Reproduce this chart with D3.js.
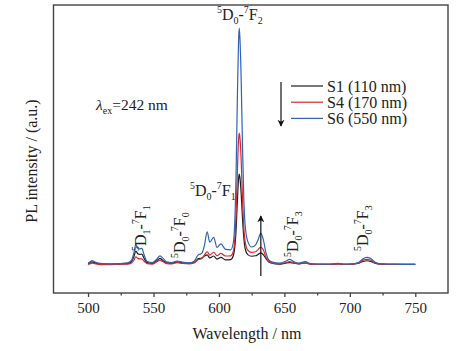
<!DOCTYPE html>
<html>
<head>
    <script src="https://d3js.org/d3.v7.min.js"></script>
    <style>
        body { margin: 0; background: #fff; }
    </style>
</head>
<body>
<svg width="472" height="351" id="mainSvg"></svg>
<script>
    // wavelength (nm) sampling points
    const wavelengths = [
        500, 502, 503, 505, 508, 512, 518, 524, 530, 533,
        535, 536.5, 538, 539.5, 541, 543, 545, 549, 552, 555,
        557, 560, 564, 568, 572, 577, 581, 584, 587, 589,
        591, 593, 596, 598.5, 601.5, 605, 609, 611, 612, 613,
        614, 615, 615.5, 616, 617, 618, 619, 620, 622, 625,
        628, 630, 632, 634, 636, 638, 641, 646, 651, 654,
        657, 661, 666, 670, 676, 684, 691, 696, 702, 707,
        710, 713, 716, 719, 724, 732, 741, 750
    ];
    // S1 (110 nm) - black
    const s1Values = [
        0.5, 1.0, 1.3, 1.0, 0.5, 0.4, 0.4, 0.5, 0.6, 1.3,
        3.5, 5.9, 4.8, 4.5, 4.6, 2.6, 1.0, 0.7, 1.6, 2.8,
        2.0, 0.9, 0.7, 1.3, 0.9, 0.7, 1.1, 2.6, 3.0, 3.8,
        4.3, 3.0, 3.8, 2.5, 3.2, 2.2, 2.3, 4.0, 7.0, 14.0,
        26, 36.5, 38.4, 37, 30, 19.5, 11.5, 7.0, 4.4, 3.7,
        3.9, 4.5, 5.1, 4.3, 2.6, 1.3, 0.7, 0.4, 0.8, 1.0,
        0.8, 0.5, 0.9, 0.4, 0.3, 0.3, 0.5, 0.3, 0.4, 0.8,
        1.5, 1.8, 1.5, 0.8, 0.4, 0.3, 0.3, 0.3
    ];
    // S4 (170 nm) - red
    const s4Values = [
        0.3, 0.6, 0.8, 0.6, 0.3, 0.2, 0.2, 0.3, 0.4, 0.8,
        2.0, 3.5, 2.8, 2.6, 2.6, 1.5, 0.6, 0.4, 1.2, 2.1,
        1.5, 0.6, 0.5, 1.0, 0.7, 0.5, 0.9, 2.2, 2.8, 4.3,
        5.6, 4.2, 5.4, 3.9, 4.9, 3.8, 3.9, 5.8, 10.0, 20.0,
        38, 53, 55.7, 54, 44, 28, 16, 10, 6.3, 5.3,
        5.6, 6.6, 7.6, 6.2, 3.2, 1.6, 0.8, 0.5, 1.0, 1.4,
        1.0, 0.5, 0.8, 0.4, 0.3, 0.3, 0.5, 0.3, 0.4, 0.9,
        2.0, 2.4, 2.0, 0.9, 0.4, 0.3, 0.3, 0.3
    ];
    // S6 (550 nm) - blue
    const s6Values = [
        0.8, 1.5, 1.9, 1.4, 0.8, 0.6, 0.5, 0.6, 0.9, 1.8,
        5.0, 8.7, 7.0, 6.8, 7.0, 4.0, 1.6, 1.0, 2.2, 3.9,
        3.0, 1.3, 1.0, 1.7, 1.2, 0.9, 1.6, 4.2, 5.0, 8.5,
        14.0, 9.6, 11.7, 7.4, 8.9, 6.6, 6.4, 9.5, 17.0, 36.0,
        68, 95, 100, 96, 78, 50, 28, 17, 10, 7.6,
        8.5, 10.8, 13.5, 10.5, 5.0, 2.2, 1.2, 0.8, 1.6, 2.4,
        1.5, 0.8, 1.4, 0.6, 0.4, 0.4, 0.7, 0.4, 0.5, 1.2,
        2.6, 3.2, 2.7, 1.3, 0.5, 0.4, 0.3, 0.3
    ];
    const seriesNames = ["S1 (110 nm)", "S4 (170 nm)", "S6 (550 nm)"];
    const seriesColors = ["#1e1e1e", "#d8262e", "#2f63b3"];
    const majorTicks = [500, 550, 600, 650, 700, 750];
    const minorTicks = [525, 575, 625, 675, 725];

    const FONT = "'Liberation Serif', Tinos, 'Times New Roman', serif";
    const svg = d3.select("#mainSvg");
    const plot = { left: 53.5, right: 448, top: 5, bottom: 293 };

    const xScale = d3.scaleLinear().domain([473.6, 775]).range([plot.left, plot.right]);
    const yScale = d3.scaleLinear().domain([-11.8, 109.7]).range([plot.bottom, plot.top]);

    // arrow head
    const defs = svg.append("defs");
    defs.append("marker")
        .attr("id", "head")
        .attr("viewBox", "0 0 10 10")
        .attr("refX", 9).attr("refY", 5)
        .attr("markerWidth", 7).attr("markerHeight", 8)
        .attr("markerUnits", "userSpaceOnUse")
        .attr("orient", "auto")
        .append("path").attr("d", "M0,0 L10,5 L0,10 L3,5 Z").attr("fill", "#111");

    // spectra
    const line = d3.line()
        .x((d, i) => xScale(wavelengths[i]))
        .y(d => yScale(d))
        .curve(d3.curveMonotoneX);
    [s1Values, s4Values, s6Values].forEach((vals, k) => {
        svg.append("path")
            .datum(vals)
            .attr("fill", "none")
            .attr("stroke", seriesColors[k])
            .attr("stroke-width", 1.2)
            .attr("d", line);
    });

    // frame
    svg.append("rect")
        .attr("x", plot.left).attr("y", plot.top)
        .attr("width", plot.right - plot.left).attr("height", plot.bottom - plot.top)
        .attr("fill", "none").attr("stroke", "#444").attr("stroke-width", 1.4);

    // x axis
    const xAxis = svg.append("g")
        .attr("transform", `translate(0,${plot.bottom})`)
        .call(d3.axisBottom(xScale).tickValues(majorTicks).tickSize(4).tickSizeOuter(0));
    xAxis.attr("font-family", FONT).attr("font-size", 15);
    xAxis.select(".domain").remove();
    xAxis.selectAll("line").attr("stroke", "#444").attr("stroke-width", 1.3);
    xAxis.selectAll("text").attr("y", 9).attr("fill", "#222");
    const xMinor = svg.append("g")
        .attr("transform", `translate(0,${plot.bottom})`)
        .call(d3.axisBottom(xScale).tickValues(minorTicks).tickSize(2.5).tickSizeOuter(0).tickFormat(""));
    xMinor.select(".domain").remove();
    xMinor.selectAll("line").attr("stroke", "#444").attr("stroke-width", 1.3);

    // axis titles
    svg.append("text")
        .attr("x", 247).attr("y", 339)
        .attr("text-anchor", "middle").attr("font-size", 16)
        .attr("font-family", FONT).attr("fill", "#222")
        .text("Wavelength / nm");
    svg.append("text")
        .attr("transform", "translate(37,161) rotate(-90)")
        .attr("text-anchor", "middle").attr("font-size", 16)
        .attr("font-family", FONT).attr("fill", "#222")
        .text("PL intensity / (a.u.)");

    // spectroscopic term label: ^aD_b-^cF_d
    function termLabel(x, y, rotate, a, b, c, d, fs) {
        const t = svg.append("text")
            .attr("transform", `translate(${x},${y}) rotate(${rotate})`)
            .attr("font-family", FONT).attr("fill", "#222")
            .attr("font-size", fs);
        const parts = [[a, "sup"], ["D", ""], [b, "sub"], ["-", ""], [c, "sup"], ["F", ""], [d, "sub"]];
        let shift = 0;
        parts.forEach(([s, kind]) => {
            const target = kind === "sup" ? -0.42 * fs : kind === "sub" ? 0.25 * fs : 0;
            t.append("tspan")
                .attr("dy", target - shift)
                .attr("font-size", kind ? fs * 0.62 : fs)
                .text(s);
            shift = target;
        });
    }
    termLabel(217, 20, 0, "5", "0", "7", "2", 16);
    termLabel(190, 196, 0, "5", "0", "7", "1", 16);
    termLabel(146, 251, -90, "5", "1", "7", "1", 16);
    termLabel(185, 258, -90, "5", "0", "7", "0", 16);
    termLabel(298, 257, -90, "5", "0", "7", "3", 16);
    termLabel(368, 251, -90, "5", "0", "7", "3", 16);

    // excitation wavelength
    const ex = svg.append("text").attr("x", 96).attr("y", 110)
        .attr("font-family", FONT).attr("fill", "#222").attr("font-size", 15.5);
    ex.append("tspan").attr("font-style", "italic").text("λ");
    ex.append("tspan").attr("font-size", 10).attr("dy", 4).text("ex");
    ex.append("tspan").attr("dy", -4).text("=242 nm");

    // legend
    const legend = svg.append("g");
    seriesNames.forEach((name, k) => {
        const ly = 86 + k * 16.2;
        legend.append("line")
            .attr("x1", 291).attr("x2", 323).attr("y1", ly).attr("y2", ly)
            .attr("stroke", seriesColors[k]).attr("stroke-width", 1.2);
        legend.append("text")
            .attr("x", 327).attr("y", ly + 5.5).attr("font-size", 16)
            .attr("font-family", FONT).attr("fill", "#222")
            .text(name);
    });
    svg.append("line")
        .attr("x1", 281).attr("x2", 281).attr("y1", 82).attr("y2", 126)
        .attr("stroke", "#111").attr("stroke-width", 1.2)
        .attr("marker-end", "url(#head)");

    // upward arrow at the 632 nm band
    svg.append("line")
        .attr("x1", xScale(632)).attr("x2", xScale(632))
        .attr("y1", 276).attr("y2", 216)
        .attr("stroke", "#111").attr("stroke-width", 1.2)
        .attr("marker-end", "url(#head)");
</script>
</body>
</html>
